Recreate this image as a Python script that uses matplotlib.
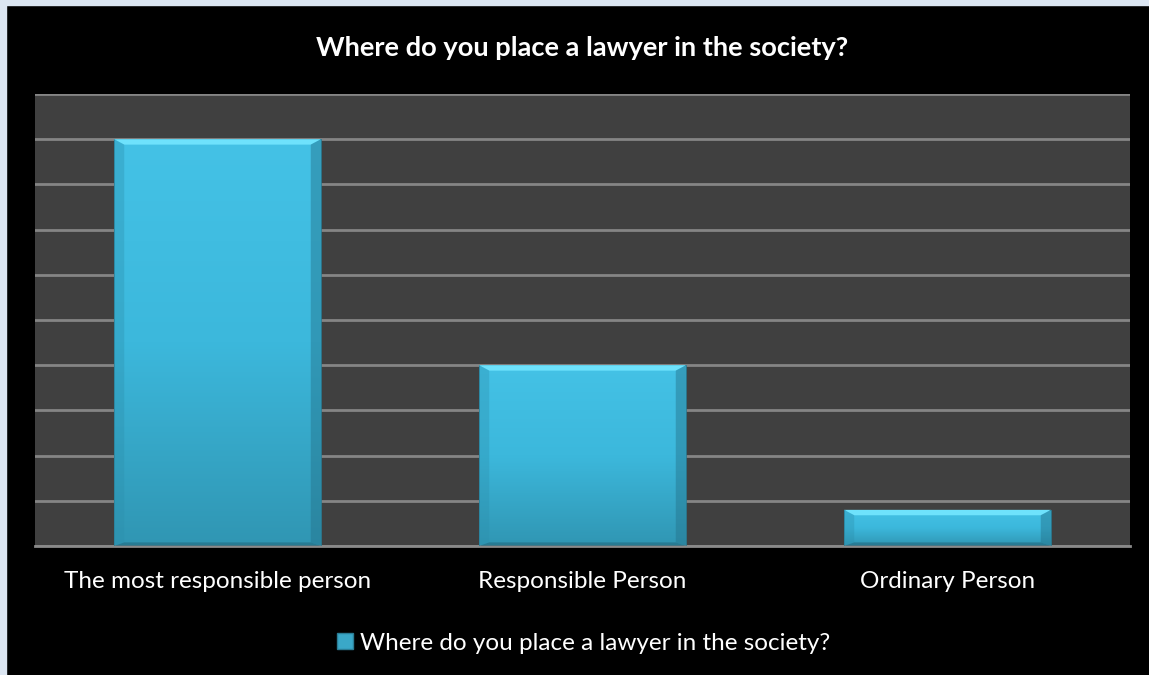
import matplotlib.pyplot as plt
import numpy as np
from matplotlib.patches import Rectangle, Polygon
from matplotlib.colors import LinearSegmentedColormap

categories = ["The most responsible person", "Responsible Person", "Ordinary Person"]
values = [90, 40, 8]
y_ticks = list(range(0, 101, 10))
title = "Where do you place a lawyer in the society?"
series_name = "Where do you place a lawyer in the society?"

plt.rcParams["font.family"] = ["Lato", "DejaVu Sans"]

W, H = 1149, 675
fig = plt.figure(figsize=(W / 100, H / 100), dpi=100)
fig.patch.set_facecolor("#000000")

# light frame along the top and left edges
fig.patches.append(Rectangle((0, 1 - 5 / H), 1, 5 / H, transform=fig.transFigure,
                             color="#dce6f2", zorder=0))
fig.patches.append(Rectangle((0, 0), 6 / W, 1, transform=fig.transFigure,
                             color="#dce6f2", zorder=0))

ax = fig.add_axes([35 / W, (H - 546) / H, (1130 - 35) / W, (546 - 94) / H])
ax.set_facecolor("#404040")
ax.set_xlim(-0.5, len(categories) - 0.5)
ax.set_ylim(0, 100)
ax.set_yticks(y_ticks)
ax.set_yticklabels([])
ax.tick_params(axis="y", length=0)
ax.tick_params(axis="x", length=0, colors="white", labelsize=17.5, pad=18)
ax.grid(axis="y", color="#858585", linewidth=2)
ax.set_axisbelow(True)
for side in ["left", "right", "top"]:
    ax.spines[side].set_visible(False)
ax.spines["bottom"].set_color("#8a8a8a")
ax.spines["bottom"].set_linewidth(2)
ax.set_xticks(range(len(categories)))
ax.set_xticklabels(categories)

bar_cmap = LinearSegmentedColormap.from_list(
    "bar", ["#44c2e6", "#3cb8dc", "#3096b3"])
grad = np.linspace(0, 1, 256).reshape(-1, 1)

bars = ax.bar(range(len(categories)), values, width=0.567, color="none",
              edgecolor="#2a7d95", linewidth=0.6, zorder=3)

for bar in bars:
    x0, y0 = bar.get_x(), bar.get_y()
    w, h = bar.get_width(), bar.get_height()
    img = ax.imshow(grad, extent=(x0, x0 + w, y0, y0 + h), cmap=bar_cmap,
                    origin="upper", aspect="auto", zorder=2)
    img.set_clip_path(bar)
    # bevel: bright top strip and softly shaded sides
    bx = 0.028
    by = min(1.2, h * 0.2)
    ax.add_patch(Polygon([(x0, y0 + h), (x0 + w, y0 + h),
                          (x0 + w - bx, y0 + h - by), (x0 + bx, y0 + h - by)],
                         closed=True, color="#6ee2fc", zorder=3, linewidth=0))
    ax.add_patch(Polygon([(x0, y0 + h), (x0 + bx, y0 + h - by),
                          (x0 + bx, y0 + 0.8), (x0, y0)],
                         closed=True, color="#2c8fac", alpha=0.35, zorder=3, linewidth=0))
    ax.add_patch(Polygon([(x0 + w, y0 + h), (x0 + w - bx, y0 + h - by),
                          (x0 + w - bx, y0 + 0.8), (x0 + w, y0)],
                         closed=True, color="#24728a", alpha=0.45, zorder=3, linewidth=0))
    ax.add_patch(Polygon([(x0, y0), (x0 + bx, y0 + 0.8),
                          (x0 + w - bx, y0 + 0.8), (x0 + w, y0)],
                         closed=True, color="#22697f", alpha=0.6, zorder=3, linewidth=0))

ax.set_ylim(0, 100)

fig.text(0.5065, (H - 48) / H, title, color="white", fontsize=19.6,
         fontweight="bold", ha="center", va="center")

handle = Rectangle((0, 0), 1, 1, facecolor="#3aa8c8", edgecolor="#2a7d95")
leg = fig.legend([handle], [series_name], loc="center",
                 bbox_to_anchor=(0.508, (H - 643) / H), frameon=False,
                 fontsize=17.5, labelcolor="white", handlelength=0.65,
                 handleheight=0.65, handletextpad=0.3)

fig.savefig("out.png", dpi=100, facecolor=fig.get_facecolor())
